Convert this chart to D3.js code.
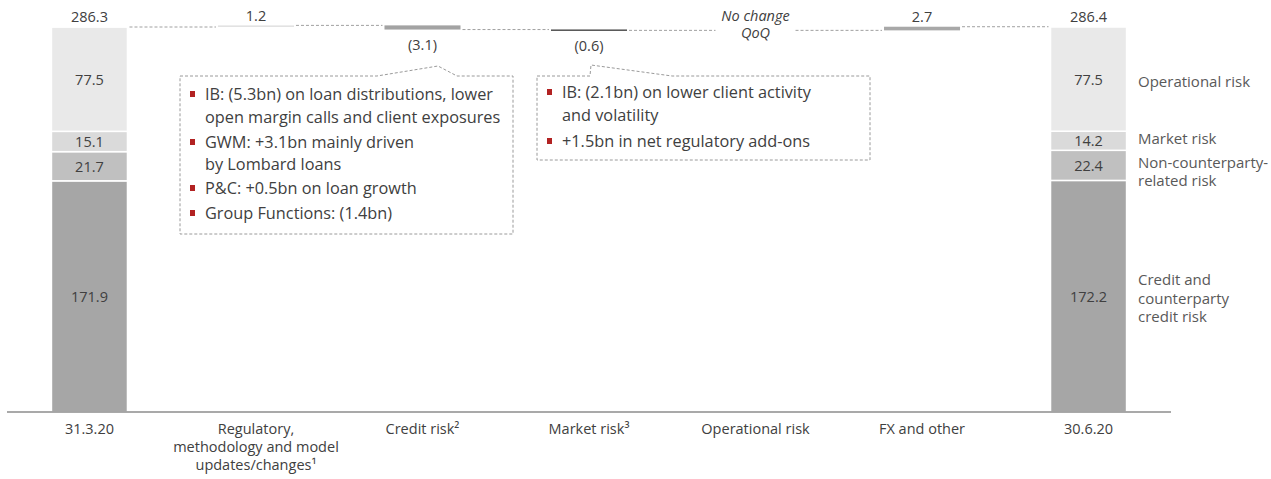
<!DOCTYPE html>
<html>
<head>
<meta charset="utf-8">
<script src="https://cdn.jsdelivr.net/npm/d3@7"></script>
<style>
  body { margin: 0; background: #fff; }
  svg text { font-family: "Open Sans", sans-serif; fill: #404040; }
</style>
</head>
<body>
<div id="chart"></div>
<script>
// column labels (x axis)
var categories = ["31.3.20", "Regulatory,|methodology and model|updates/changes¹", "Credit risk²", "Market risk³", "Operational risk", "FX and other", "30.6.20"];
// stacked totals, bottom to top
var segments = ["Credit and|counterparty|credit risk", "Non-counterparty-|related risk", "Market risk", "Operational risk"];
var startValues = [171.9, 21.7, 15.1, 77.5];
var endValues = [172.2, 22.4, 14.2, 77.5];
var startTotal = 286.3;
var endTotal = 286.4;
// waterfall movements (index 1..5), null = no change
var deltas = [1.2, -3.1, -0.6, null, 2.7];
var deltaLabels = ["1.2", "(3.1)", "(0.6)", "No change|QoQ", "2.7"];
var deltaColors = ["#e2e2e2", "#a3a3a3", "#262626", "none", "#a8a8a8"];
var segColors = ["#a6a6a6", "#c0c0c0", "#dadada", "#e9e9e9"];

var notes1 = [["IB: (5.3bn) on loan distributions, lower", "open margin calls and client exposures"],
              ["GWM: +3.1bn mainly driven", "by Lombard loans"],
              ["P&C: +0.5bn on loan growth"],
              ["Group Functions: (1.4bn)"]];
var notes2 = [["IB: (2.1bn) on lower client activity", "and volatility"],
              ["+1.5bn in net regulatory add-ons"]];

var width = 1271, height = 479;
var fs = "14.5px";
var svg = d3.select("#chart").append("svg")
  .attr("width", width)
  .attr("height", height);

var x = d3.scaleBand()
  .domain(d3.range(categories.length))
  .range([7, 1171])
  .paddingInner(0.5435)
  .paddingOuter(0.267);
var y = d3.scaleLinear().domain([0, startTotal]).range([412, 27]);
var bw = x.bandwidth();

// stacked total bars
function stack(idx, vals, total) {
  var acc = 0;
  vals.forEach(function(v, i) {
    var y0 = y(acc), y1 = y(acc + v);
    svg.append("rect")
      .attr("x", x(idx)).attr("y", y1)
      .attr("width", bw).attr("height", y0 - y1)
      .attr("fill", segColors[i])
      .attr("stroke", "#fff").attr("stroke-width", 1.5);
    svg.append("text")
      .attr("x", x(idx) + bw / 2).attr("y", (y0 + y1) / 2)
      .attr("text-anchor", "middle").attr("dominant-baseline", "central")
      .style("font-size", fs)
      .text(v.toFixed(1));
    acc += v;
  });
  svg.append("text")
    .attr("x", x(idx) + bw / 2).attr("y", y(acc) - 11)
    .attr("text-anchor", "middle").attr("dominant-baseline", "central")
    .style("font-size", fs)
    .text(total.toFixed(1));
}
stack(0, startValues, startTotal);
stack(6, endValues, endTotal);

// waterfall deltas and dashed connectors
var level = startTotal;
var levels = [level];
deltas.forEach(function(d, i) {
  var idx = i + 1;
  var cx = x(idx) + bw / 2;
  var lab = deltaLabels[i].split("|");
  if (d === null) {
    lab.forEach(function(t, k) {
      svg.append("text")
        .attr("x", cx).attr("y", 15 + k * 17)
        .attr("text-anchor", "middle").attr("dominant-baseline", "central")
        .style("font-size", fs).style("font-style", "italic")
        .text(t);
    });
    levels.push(level);
    return;
  }
  var a = level, b = level + d;
  svg.append("rect")
    .attr("x", x(idx)).attr("y", y(Math.max(a, b)))
    .attr("width", bw).attr("height", Math.max(1.2, Math.abs(y(a) - y(b))))
    .attr("fill", deltaColors[i]);
  svg.append("text")
    .attr("x", cx)
    .attr("y", d > 0 ? y(b) - 10 : y(b) + 15)
    .attr("text-anchor", "middle").attr("dominant-baseline", "central")
    .style("font-size", fs)
    .text(lab[0]);
  level = b;
  levels.push(level);
});

for (var i = 0; i < categories.length - 1; i++) {
  svg.append("line")
    .attr("x1", x(i) + bw + 2).attr("x2", x(i + 1) - 2)
    .attr("y1", y(levels[i])).attr("y2", y(levels[i]))
    .attr("stroke", "#a0a0a0").attr("stroke-width", 1)
    .attr("stroke-dasharray", "3,2");
}

// baseline axis
svg.append("line")
  .attr("x1", x.range()[0]).attr("x2", x.range()[1])
  .attr("y1", y(0)).attr("y2", y(0))
  .attr("stroke", "#8c8c8c").attr("stroke-width", 1.5);

categories.forEach(function(c, i) {
  c.split("|").forEach(function(t, k) {
    svg.append("text")
      .attr("x", x(i) + bw / 2).attr("y", 428 + k * 18)
      .attr("text-anchor", "middle").attr("dominant-baseline", "central")
      .style("font-size", fs)
      .text(t);
  });
});

// legend labels on the right
var legendY = [[279, 298, 316], [162, 180], [138], [81]];
segments.forEach(function(s, i) {
  s.split("|").forEach(function(t, k) {
    svg.append("text")
      .attr("x", 1138).attr("y", legendY[i][k])
      .attr("dominant-baseline", "central")
      .style("font-size", "15px")
      .style("fill", "#595959")
      .text(t);
  });
});

// callout boxes
function callout(box, ptr, notes, lineY) {
  var p = d3.path();
  p.moveTo(box[0], box[1]);
  p.lineTo(ptr[0][0], box[1]);
  p.lineTo(ptr[1][0], ptr[1][1]);
  p.lineTo(ptr[2][0], box[1]);
  p.lineTo(box[2], box[1]);
  p.lineTo(box[2], box[3]);
  p.lineTo(box[0], box[3]);
  p.closePath();
  svg.append("path")
    .attr("d", p.toString())
    .attr("fill", "none")
    .attr("stroke", "#9a9a9a").attr("stroke-width", 1)
    .attr("stroke-dasharray", "3,2");
  var k = 0;
  notes.forEach(function(n) {
    svg.append("rect")
      .attr("x", box[0] + 10).attr("y", lineY[k] - 3)
      .attr("width", 5).attr("height", 6)
      .attr("fill", "#b22222");
    n.forEach(function(t) {
      svg.append("text")
        .attr("x", box[0] + 25).attr("y", lineY[k])
        .attr("dominant-baseline", "central")
        .style("font-size", "16.3px")
        .text(t);
      k++;
    });
  });
}
callout([180, 76, 513, 234], [[377], [438, 66], [457]], notes1, [94, 117, 142, 164, 188, 213]);
callout([537, 76, 870, 160], [[590], [591, 65], [672]], notes2, [92, 115, 141]);
</script>
</body>
</html>
